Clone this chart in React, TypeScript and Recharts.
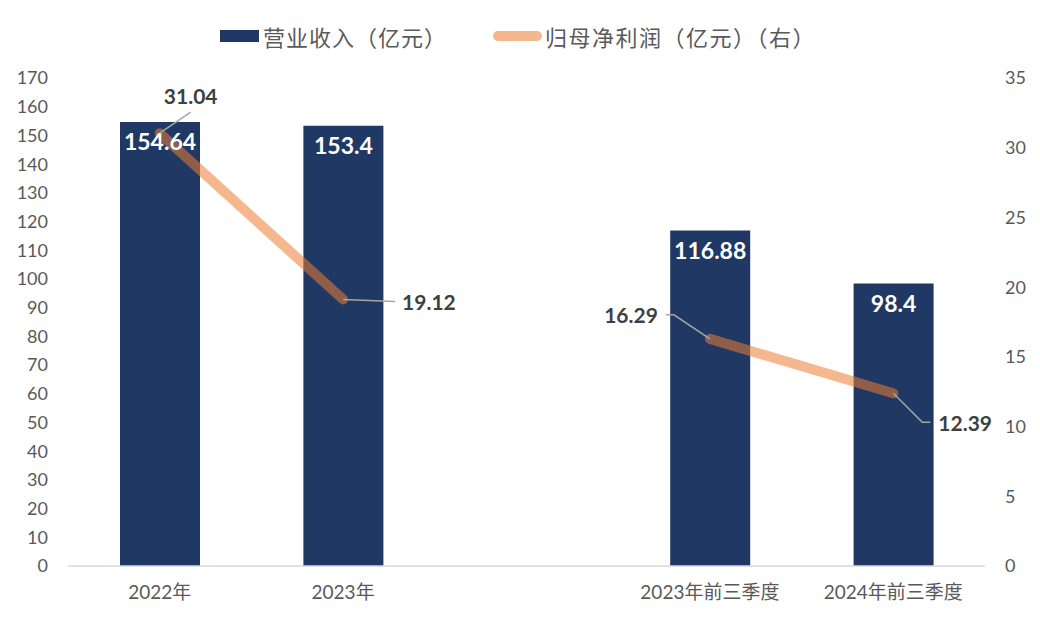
import React from 'react';
import {
  ComposedChart,
  Bar,
  Line,
  XAxis,
  YAxis,
  LabelList,
} from 'recharts';

const categories = ['2022年', '2023年', '', '2023年前三季度', '2024年前三季度'];
const revenue = [154.64, 153.4, null, 116.88, 98.4];
const netProfit = [31.04, 19.12, null, 16.29, 12.39];
const leftTicks = [0, 10, 20, 30, 40, 50, 60, 70, 80, 90, 100, 110, 120, 130, 140, 150, 160, 170];
const rightTicks = [0, 5, 10, 15, 20, 25, 30, 35];

const data = categories.map((name, i) => ({
  name,
  revenue: revenue[i],
  profit: netProfit[i],
}));

const NAVY = '#203864';
const ORANGE = '#ED7D31';
const TICK = '#595959';
const FONT = 'Lato, "Noto Sans CJK SC", sans-serif';

// leader line points and label anchor, relative to each line point
const leaders: any[] = [
  { pts: [[31, -21]], tx: 31, ty: -38, anchor: 'middle' },
  { pts: [[52, 2]], tx: 59, ty: 2, anchor: 'start' },
  null,
  { pts: [[-36, -24], [-44, -24]], tx: -52, ty: -24, anchor: 'end' },
  { pts: [[29, 29], [37, 29]], tx: 45, ty: 29, anchor: 'start' },
];

const ProfitLabel = (props: any) => {
  const { x, y, value, index } = props;
  const l = leaders[index];
  if (value == null || !l) return null;
  const path =
    `M${x},${y}` + l.pts.map((p: number[]) => ` L${x + p[0]},${y + p[1]}`).join('');
  return (
    <g>
      <path d={path} stroke="#A6A6A6" strokeWidth={1.5} fill="none" />
      <text
        x={x + l.tx}
        y={y + l.ty}
        textAnchor={l.anchor}
        dominantBaseline="central"
        fill="#404040"
        fontSize={21}
        fontWeight="bold"
        fontFamily={FONT}
      >
        {value}
      </text>
    </g>
  );
};

const Legend = () => (
  <div
    style={{
      position: 'absolute',
      top: 20,
      left: 220,
      display: 'flex',
      alignItems: 'center',
      fontFamily: FONT,
      fontSize: 22,
      color: TICK,
      whiteSpace: 'nowrap',
    }}
  >
    <span style={{ width: 39, height: 12, background: NAVY, display: 'inline-block' }} />
    <span style={{ marginLeft: 4, width: 230, display: 'inline-block', letterSpacing: 1 }}>
      营业收入（亿元）
    </span>
    <span
      style={{
        width: 49,
        height: 10,
        borderRadius: 5,
        background: ORANGE,
        opacity: 0.55,
        display: 'inline-block',
      }}
    />
    <span style={{ marginLeft: 3, letterSpacing: 1.5 }}>归母净利润（亿元）（右）</span>
  </div>
);

export default function App() {
  return (
    <div style={{ position: 'fixed', top: 0, left: 0, width: 1040, height: 626, background: '#fff' }}>
      <Legend />
      <ComposedChart
        width={1040}
        height={626}
        data={data}
        margin={{ top: 78, right: 0, left: 0, bottom: 30 }}
      >
        <XAxis
          dataKey="name"
          height={30}
          axisLine={{ stroke: '#D9D9D9', strokeWidth: 1.5 }}
          tickLine={false}
          tickSize={0}
          tickMargin={20}
          tick={{ fill: TICK, fontSize: 19, fontFamily: FONT }}
          interval={0}
        />
        <YAxis
          yAxisId="left"
          width={68}
          domain={[0, 170]}
          ticks={leftTicks}
          interval={0}
          axisLine={false}
          tickLine={false}
          tickMargin={14}
          tick={{ fill: TICK, fontSize: 18, fontFamily: FONT }}
        />
        <YAxis
          yAxisId="right"
          orientation="right"
          width={55}
          domain={[0, 35]}
          ticks={rightTicks}
          interval={0}
          axisLine={false}
          tickLine={false}
          tickMargin={14}
          tick={{ fill: TICK, fontSize: 18, fontFamily: FONT }}
        />
        <Bar yAxisId="left" dataKey="revenue" fill={NAVY} barSize={80} isAnimationActive={false}>
          <LabelList
            dataKey="revenue"
            position="insideTop"
            offset={12}
            fill="#fff"
            fontSize={23}
            fontWeight="bold"
            fontFamily={FONT}
          />
        </Bar>
        <Line
          yAxisId="right"
          dataKey="profit"
          stroke={ORANGE}
          strokeOpacity={0.55}
          strokeWidth={10}
          strokeLinecap="round"
          dot={false}
          activeDot={false}
          connectNulls={false}
          isAnimationActive={false}
        >
          <LabelList dataKey="profit" content={<ProfitLabel />} />
        </Line>
      </ComposedChart>
    </div>
  );
}
